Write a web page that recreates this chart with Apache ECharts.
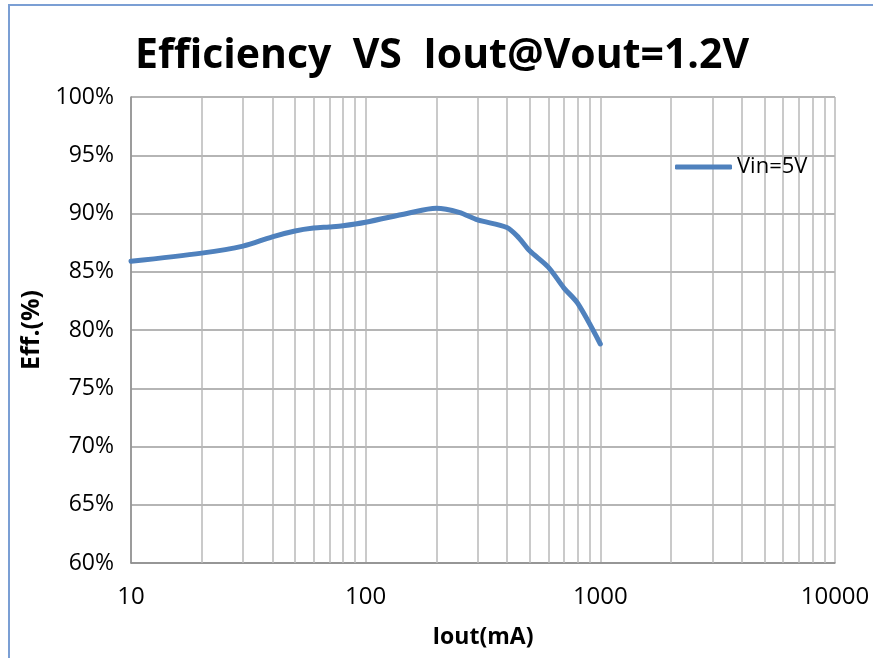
<!DOCTYPE html>
<html><head><meta charset="utf-8">
<script src="https://cdn.jsdelivr.net/npm/echarts@6/dist/echarts.min.js"></script>
<style>html,body{margin:0;padding:0;background:#fff}#c{width:873px;height:658px}</style>
</head><body><div id="c"></div>
<script>
const iout = [10, 20, 30, 40, 50, 60, 70, 80, 100, 150, 200, 250, 300, 400, 450, 500, 600, 700, 800, 1000];
const eff  = [85.9, 86.6, 87.2, 88.0, 88.5, 88.75, 88.85, 88.95, 89.25, 90.0, 90.45, 90.1, 89.45, 88.8, 87.9, 86.8, 85.4, 83.6, 82.3, 78.8];
const seriesName = 'Vin=5V';
const minorGrid = [20,30,40,50,60,70,80,90,200,300,400,500,600,700,800,900,2000,3000,4000,5000,6000,7000,8000,9000];
const yTicks = [60, 65, 70, 75, 80, 85, 90, 95, 100];

const legendText = { fontFamily: 'Open Sans', fontSize: 22, color: '#000' };
const chart = echarts.init(document.getElementById('c'));
chart.setOption({
  animation: false,
  title: {
    text: 'Efficiency  VS  Iout@Vout=1.2V',
    left: 130, top: 31,
    textStyle: { fontFamily: 'Open Sans', fontWeight: 'bold', fontSize: 41, color: '#000' }
  },
  graphic: [{
    type: 'polyline', silent: true,
    shape: { points: [[9, 658], [9, 5], [873, 5]] },
    style: { stroke: '#7b9fd4', lineWidth: 2, fill: null }
  }],
  legend: {
    data: [{ name: seriesName, textStyle: legendText }], left: 670, top: 151,
    itemWidth: 57, itemHeight: 5, itemGap: 8,
    icon: 'roundRect',
    textStyle: legendText
  },
  grid: { left: 131, right: 38, top: 97, bottom: 95 },
  xAxis: {
    type: 'log', min: 10, max: 10000, logBase: 10,
    name: 'Iout(mA)', nameLocation: 'middle', nameGap: 63,
    nameTextStyle: { fontFamily: 'Open Sans', fontWeight: 'bold', fontSize: 23, color: '#000' },
    axisLine: { lineStyle: { color: '#8c8c8c', width: 1.5 } },
    axisTick: { show: false },
    axisLabel: { fontFamily: 'Open Sans', fontSize: 24, color: '#000', margin: 22,
      formatter: v => String(v) },
    splitLine: { show: true, lineStyle: { color: '#b8b8b8', width: 1.5 } }
  },
  yAxis: {
    type: 'value', min: 60, max: 100, interval: 5,
    name: 'Eff.(%)', nameLocation: 'middle', nameGap: 82,
    nameTextStyle: { fontFamily: 'Open Sans', fontWeight: 'bold', fontSize: 25, color: '#000' },
    axisLine: { show: true, lineStyle: { color: '#8c8c8c', width: 1.5 } },
    axisTick: { show: false },
    axisLabel: { fontFamily: 'Open Sans', fontSize: 23, color: '#000', margin: 17,
      formatter: v => yTicks.includes(v) ? v + '%' : '' },
    splitLine: { show: true, lineStyle: { color: '#9c9c9c', width: 1.5 } }
  },
  series: [{
    name: seriesName, type: 'line',
    data: iout.map((x, i) => [x, eff[i]]),
    smooth: 0.3, showSymbol: false, symbol: 'none',
    lineStyle: { color: '#4f81bd', width: 5, cap: 'round' },
    itemStyle: { color: '#4f81bd' },
    z: 5,
    markLine: {
      silent: true, symbol: ['none', 'none'], label: { show: false },
      lineStyle: { color: '#b8b8b8', width: 1.5, type: 'solid' },
      data: minorGrid.map(v => ({ xAxis: v })),
      z: 1
    }
  }]
});
</script></body></html>
